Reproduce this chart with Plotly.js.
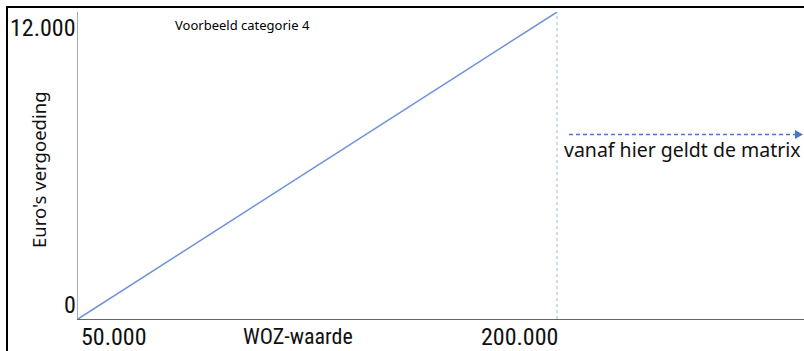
<!DOCTYPE html>
<html>
<head>
<meta charset="utf-8">
<script src="https://cdn.plot.ly/plotly-3.0.1.min.js"></script>
<style>
  html, body { margin: 0; padding: 0; background: #fff; }
  #chart { width: 804px; height: 351px; }
</style>
</head>
<body>
<div id="chart"></div>
<script>
// ---- data ----
const wozValues = [50000, 200000];        // WOZ-waarde
const vergoeding = [0, 12000];            // Euro's vergoeding
const xTickVals = [50000, 200000];
const xTickText = ['50.000', '200.000'];
const yTickVals = [0, 12000];
const yTickText = ['0', '12.000'];
const matrixStart = 200000;
const chartTitle = 'Voorbeeld categorie 4';
const xTitle = 'WOZ-waarde';
const yTitle = "Euro's vergoeding";
const matrixNote = 'vanaf hier geldt de matrix';

// ---- layout geometry (pixels) ----
const W = 804, H = 351;
const L = 78, R = 0, T = 12, B = 32;
const plotW = W - L - R, plotH = H - T - B;
const xSpanPx = 479;  // pixels between 50.000 and 200.000
const xMin = wozValues[0], xMax = wozValues[wozValues.length - 1];
const xRange = [xMin, xMin + (xMax - xMin) * plotW / xSpanPx];
const px = p => (p - L) / plotW;
const py = p => (H - B - p) / plotH;

const condensed = '"Roboto Condensed", "Liberation Sans Narrow", "DejaVu Sans Condensed", Roboto, sans-serif';
const calibri = '"Noto Sans", "Open Sans", sans-serif';

const trace = {
  x: wozValues, y: vergoeding, type: 'scatter', mode: 'lines',
  line: { color: '#6C93DA', width: 1.5 }, hoverinfo: 'skip', showlegend: false
};

const annotations = [
  { xref: 'paper', yref: 'y', x: 0, y: yTickVals[1], text: yTickText[1], showarrow: false,
    xanchor: 'right', yanchor: 'middle', xshift: 0, yshift: -16,
    font: { family: condensed, size: 24, color: '#111' } },
  { xref: 'paper', yref: 'y', x: 0, y: yTickVals[0], text: yTickText[0], showarrow: false,
    xanchor: 'right', yanchor: 'middle', xshift: 0, yshift: 14,
    font: { family: condensed, size: 24, color: '#111' } },
  { xref: 'x', yref: 'paper', x: xTickVals[0], y: 0, text: xTickText[0], showarrow: false,
    xanchor: 'left', yanchor: 'top', xshift: 1, yshift: -2,
    font: { family: condensed, size: 24, color: '#111' } },
  { xref: 'x', yref: 'paper', x: xTickVals[1], y: 0, text: xTickText[1], showarrow: false,
    xanchor: 'right', yanchor: 'top', xshift: 3, yshift: -2,
    font: { family: condensed, size: 24, color: '#111' } },
  { xref: 'paper', yref: 'paper', x: px(241), y: 0, text: xTitle, showarrow: false,
    xanchor: 'left', yanchor: 'top', yshift: -3,
    font: { family: condensed, size: 22, color: '#111' } },
  { xref: 'paper', yref: 'paper', x: px(38), y: py(170), text: yTitle, showarrow: false,
    textangle: -90, xanchor: 'center', yanchor: 'middle',
    font: { family: calibri, size: 18.5, color: '#111' } },
  { xref: 'paper', yref: 'paper', x: px(173), y: py(25), text: chartTitle, showarrow: false,
    xanchor: 'left', yanchor: 'middle',
    font: { family: calibri, size: 13, color: '#000' } },
  { xref: 'paper', yref: 'paper', x: px(562), y: py(149), text: matrixNote, showarrow: false,
    xanchor: 'left', yanchor: 'middle',
    font: { family: calibri, size: 19.5, color: '#111' } }
];

const shapes = [
  // outer frame (left and top)
  { type: 'line', xref: 'paper', yref: 'paper', x0: px(7), x1: px(7), y0: py(6), y1: py(H + 5),
    line: { color: '#000', width: 2 } },
  { type: 'line', xref: 'paper', yref: 'paper', x0: px(6), x1: px(W + 5), y0: py(7), y1: py(7),
    line: { color: '#000', width: 2 } },
  // vertical dotted line at start of matrix
  { type: 'line', xref: 'x', yref: 'y', x0: matrixStart, x1: matrixStart, y0: 0, y1: vergoeding[1],
    line: { color: '#9DB6E4', width: 1, dash: 'dot' } },
  // dashed arrow
  { type: 'line', xref: 'paper', yref: 'paper', x0: px(569), x1: px(797), y0: py(134.5), y1: py(134.5),
    line: { color: '#4A78C8', width: 1.5, dash: '4px,3px' } },
  { type: 'path', xref: 'paper', yref: 'paper',
    path: `M ${px(803)} ${py(134.5)} L ${px(795)} ${py(130)} L ${px(795)} ${py(139)} Z`,
    fillcolor: '#4A78C8', line: { color: '#4A78C8', width: 0 } }
];

const layout = {
  width: W, height: H,
  margin: { l: L, r: R, t: T, b: B, pad: 0 },
  paper_bgcolor: '#fff', plot_bgcolor: '#fff',
  showlegend: false,
  xaxis: { range: xRange, showgrid: false, zeroline: false, showline: true,
           linecolor: '#666', linewidth: 1, showticklabels: false, ticks: '', fixedrange: true },
  yaxis: { range: [0, 12000], showgrid: false, zeroline: false, showline: true,
           linecolor: '#aaa', linewidth: 1, showticklabels: false, ticks: '', fixedrange: true },
  annotations: annotations,
  shapes: shapes
};

Plotly.newPlot('chart', [trace], layout, { staticPlot: true, displayModeBar: false });
</script>
</body>
</html>
